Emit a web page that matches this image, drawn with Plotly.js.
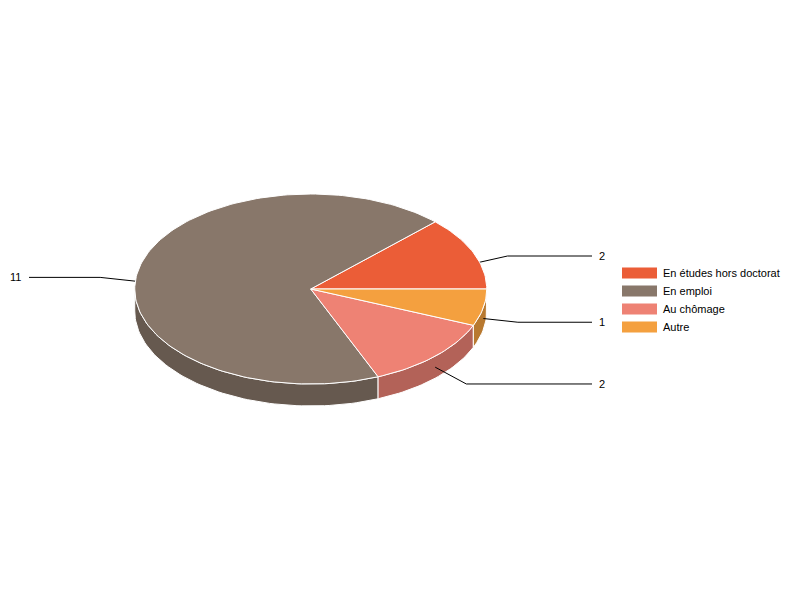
<!DOCTYPE html>
<html><head><meta charset="utf-8">
<script src="https://cdn.plot.ly/plotly-3.0.1.min.js"></script>
<style>html,body{margin:0;padding:0;background:#fff}</style></head>
<body><div id="chart" style="width:800px;height:600px"></div>
<script>
const categories = ["En études hors doctorat","En emploi","Au chômage","Autre"];
const values = [2,11,2,1];
const topColors = ["#EB5D37","#88776A","#EE8274","#F4A03F"];
const sideColors = ["#B14729","#66594F","#B36258","#B87930"];
const leaderStretch = [1.21,1.22,1.25,1.2];

const FONT = "Liberation Sans, Arial, sans-serif";
const cx = 310.75, cy = 289, rx = 176, ry = 95, depth = 22;
const total = values.reduce((a,b)=>a+b,0);
const rad = d => d*Math.PI/180;
const px = a => cx + rx*Math.cos(rad(a));
const py = (a,dz=0) => cy - ry*Math.sin(rad(a)) + dz;
function arc(a0,a1,dz){
  const xs=[],ys=[],n=Math.max(2,Math.ceil(Math.abs(a1-a0)/1.5));
  for(let i=0;i<=n;i++){const a=a0+(a1-a0)*i/n;xs.push(px(a));ys.push(py(a,dz));}
  return [xs,ys];
}
let cum=0;
const slices = values.map((v,i)=>{const a0=cum;cum+=v/total*360;return {i,a0,a1:cum,mid:(a0+cum)/2};});
const sides=[],tops=[],leaders=[],annotations=[],shapes=[];
slices.forEach(s=>{
  const lo=Math.max(s.a0,180), hi=Math.min(s.a1,360);
  if(hi>lo){
    const [tx,ty]=arc(lo,hi,0), [bx,by]=arc(hi,lo,depth);
    sides.push({type:"scatter",mode:"lines",x:tx.concat(bx,[tx[0]]),y:ty.concat(by,[ty[0]]),fill:"toself",
      fillcolor:sideColors[s.i],line:{color:"#fff",width:1},showlegend:false,hoverinfo:"skip"});
  }
  const [ax,ay]=arc(s.a0,s.a1,0);
  tops.push({type:"scatter",mode:"lines",x:[cx].concat(ax,[cx]),y:[cy].concat(ay,[cy]),fill:"toself",
    fillcolor:topColors[s.i],line:{color:"#fff",width:1},name:categories[s.i],showlegend:false,
    text:categories[s.i]+": "+values[s.i],hoveron:"fills",hoverinfo:"text"});
  const ox=px(s.mid), oy=py(s.mid,depth/2), k=leaderStretch[s.i];
  const ex=cx+(px(s.mid)-cx)*k, ey=cy+depth/2+(py(s.mid)-cy)*k;
  const right=Math.cos(rad(s.mid))>0, lx=right?592:29;
  leaders.push({type:"scatter",mode:"lines",x:[ox,ex,lx],y:[oy,ey,ey],line:{color:"#000",width:1},
    showlegend:false,hoverinfo:"skip"});
  annotations.push({x:right?597:23,y:ey,xref:"x",yref:"y",xanchor:right?"left":"right",yanchor:"middle",
    text:String(values[s.i]),showarrow:false,font:{family:FONT,size:11,color:"#000"},yshift:0});
});
categories.forEach((c,i)=>{
  const y=267.5+18*i;
  shapes.push({type:"rect",xref:"x",yref:"y",x0:622,x1:657,y0:y,y1:y+11,fillcolor:topColors[i],line:{width:0}});
  annotations.push({x:661,y:y+5.5,xref:"x",yref:"y",xanchor:"left",yanchor:"middle",text:c,showarrow:false,
    font:{family:FONT,size:11,color:"#000"}});
});
Plotly.newPlot("chart",sides.concat(leaders,tops),{
  width:800,height:600,margin:{l:0,r:0,t:0,b:0},paper_bgcolor:"#fff",plot_bgcolor:"#fff",showlegend:false,
  xaxis:{range:[0,800],visible:false,fixedrange:true},
  yaxis:{range:[600,0],visible:false,fixedrange:true},
  shapes,annotations
},{displayModeBar:false});
</script></body></html>
